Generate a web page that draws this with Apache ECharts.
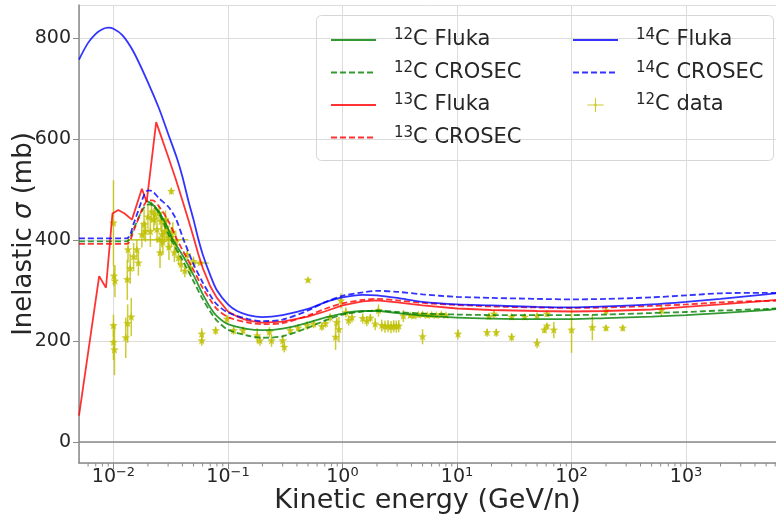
<!DOCTYPE html>
<html>
<head>
<meta charset="utf-8">
<script src="https://cdn.jsdelivr.net/npm/echarts@6/dist/echarts.min.js"></script>
<style>
  html, body { margin: 0; padding: 0; background: #ffffff; }
  #chart { width: 776px; height: 517px; }
</style>
</head>
<body>
<div id="chart"></div>
<script>
// ---- model curves: kinetic energy (GeV/n) and inelastic cross section (mb) ----
const c12FlukaE = [0.019,0.022,0.025,0.03,0.0325,0.04,0.05,0.06,0.07,0.08,0.1,0.15,0.2,0.3,0.5,0.7,1,1.5,2,3,5,10,20,50,100,200,500,1000,2000,5000,6100];
const c12FlukaS = [478,470,455,422,403,370,330,293,266,249,233,223,221,224,236,246,254,259,259,255,250,246,244,243,243,245,248,251,255,261,263];

const c12CrosecE = [0.005,0.013,0.015,0.018,0.02,0.022,0.025,0.0314,0.04,0.05,0.06,0.07,0.08,0.1,0.15,0.2,0.3,0.5,0.7,1,1.5,2,3,5,10,20,50,100,200,500,1000,2000,5000,6100];
const c12CrosecS = [397,397,422,460,470,468,452,403,360,318,283,258,240,222,210,206,209,226,240,252,258,260,257,254,252,251,251,251,252,255,257,260,263,264];

const c13FlukaE = [0.005,0.0075,0.0086,0.0098,0.011,0.0125,0.0145,0.0177,0.0195,0.0236,0.03,0.035,0.04,0.045,0.05,0.055,0.06,0.07,0.08,0.1,0.12,0.15,0.2,0.3,0.5,0.7,1,1.5,2,3,5,10,20,50,100,200,500,1000,2000,5000,6100];
const c13FlukaS = [52,328,305,452,459,452,440,501,475,633,565,520,478,440,405,372,345,308,285,258,248,240,236,238,248,258,270,278,280,276,270,264,261,259,258,259,262,267,272,279,281];

const c13CrosecE = [0.005,0.013,0.015,0.018,0.02,0.022,0.025,0.03,0.036,0.04,0.05,0.06,0.07,0.08,0.1,0.15,0.2,0.3,0.5,0.7,1,1.5,2,3,5,10,20,50,100,200,500,1000,2000,5000,6100];
const c13CrosecS = [392,392,418,463,478,478,466,438,400,380,340,305,281,263,247,236,233,235,250,263,274,281,283,280,275,271,268,266,265,266,269,272,276,279,279];

const c14FlukaE = [0.005,0.006,0.007,0.008,0.009,0.01,0.012,0.015,0.02,0.025,0.03,0.036,0.04,0.045,0.05,0.055,0.06,0.07,0.08,0.1,0.12,0.15,0.2,0.3,0.5,0.7,1,1.5,2,3,5,10,20,50,100,200,500,1000,2000,5000,6100];
const c14FlukaS = [757,790,808,817,820,818,805,772,712,660,610,560,525,478,440,402,372,330,300,272,259,251,247,251,263,276,286,291,290,285,277,272,270,267,266,268,272,277,283,292,294];

const c14CrosecE = [0.005,0.013,0.015,0.018,0.02,0.022,0.025,0.03,0.035,0.041,0.05,0.06,0.07,0.08,0.1,0.15,0.2,0.3,0.5,0.7,1,1.5,2,3,5,10,20,50,100,200,500,1000,2000,5000,6100];
const c14CrosecS = [403,403,432,482,498,496,482,466,442,400,352,316,290,272,256,243,239,242,260,276,289,296,299,297,292,287,285,283,282,283,286,290,294,295,295];

// ---- 12C measurements: energy, cross section, symmetric error ----
const dataE = [0.0100,0.0101,0.0103,0.0100,0.0100,0.0102,0.0128,0.0133,0.0143,0.0132,0.0140,0.0134,0.0150,0.0160,0.0165,0.0177,0.0185,0.0190,0.0200,0.0210,0.0215,0.0225,0.0230,0.0240,0.0250,0.0255,0.0260,0.0265,0.0270,0.0280,0.0285,0.0290,0.0300,0.0305,0.0320,0.0320,0.0330,0.0340,0.0350,0.0370,0.0390,0.0420,0.0440,0.0470,0.0500,0.059,0.059,0.078,0.098,0.112,0.135,0.18,0.19,0.23,0.24,0.30,0.31,0.35,0.41,0.49,0.50,0.56,0.66,0.71,0.78,0.87,0.89,0.93,0.97,1.07,1.13,1.21,1.5,1.63,1.75,1.93,2.06,2.2,2.35,2.5,2.65,2.8,2.95,3.1,3.4,3.9,4.2,4.6,5.0,5.5,6.0,6.6,7.3,8.0,5.0,10.2,18.3,19,21,22,30,30,39,50,50,58,61,61,70,100,152,200,200,280,610];
const dataS = [433,328,318,230,197,182,206,234,247,321,343,380,366,380,354,410,430,416,445,416,455,440,449,420,452,374,436,410,395,416,440,425,403,385,496,405,415,374,395,364,351,338,370,344,357,213,200,220,243,220,220,210,200,217,200,200,187,220,225,230,320,233,228,234,246,207,236,222,279,256,240,246,244,239,245,233,260,230,228,229,227,229,228,229,249,250,249,251,252,250,251,250,252,250,208,213,216,248,253,216,207,247,247,195,249,221,229,253,221,221,226,225,259,225,260];
const dataErr = [85,20,32,22,35,50,40,38,38,40,30,25,28,20,25,25,30,20,25,30,20,22,20,25,15,30,20,25,25,20,18,20,22,25,6,20,20,18,20,15,15,12,12,12,10,12,10,8,8,8,8,15,10,10,12,12,10,8,8,8,4,8,8,8,8,25,10,25,15,10,10,10,10,10,8,12,12,12,12,12,12,12,12,12,12,5,5,5,5,5,5,5,5,5,15,10,8,6,8,8,8,6,6,10,6,6,6,6,16,45,25,6,8,6,12];
// measurements that also carry an energy-bin width
const spanE  = [0.025, 0.057];
const spanS  = [400, 354];
const spanLo = [0.0135, 0.050];
const spanHi = [0.045, 0.068];

// ---- axis decoration ----
const X_MIN = 0.005, X_MAX = 6100, Y_MIN = -42, Y_MAX = 865;
const minorMantissa = [2, 3, 4, 5, 6, 7, 8, 9];
const minorDecades = [0.001, 0.01, 0.1, 1, 10, 100, 1000];

const FONT = 'DejaVu Sans';
const TXT = '#262626';
const SPINE = '#8a8a8a';
const GREEN = 'rgba(0,128,0,0.8)';
const RED = 'rgba(255,0,0,0.8)';
const BLUE = 'rgba(0,0,255,0.8)';
const YELLOW = 'rgba(191,191,0,0.8)';
const DASH = [6, 3];

const zip = (e, s) => e.map((v, i) => [v, s[i]]);

const minorTicks = [];
minorDecades.forEach(d => minorMantissa.forEach(m => {
  const v = m * d;
  if (v > X_MIN && v < X_MAX) minorTicks.push([v, Y_MIN]);
}));

const pointItems = dataE.map((e, i) => [e, dataS[i], dataErr[i], e, e]);
spanE.forEach((e, i) => pointItems.push([e, spanS[i], 0, spanLo[i], spanHi[i]]));

function starPoints(cx, cy, ro, ri) {
  const pts = [];
  for (let k = 0; k < 10; k++) {
    const r = k % 2 ? ri : ro;
    const a = -Math.PI / 2 + k * Math.PI / 5;
    pts.push([cx + r * Math.cos(a), cy + r * Math.sin(a)]);
  }
  return pts;
}

function renderPoint(params, api) {
  const x = api.value(0), y = api.value(1), err = api.value(2);
  const lo = api.value(3), hi = api.value(4);
  const c = api.coord([x, y]);
  const kids = [];
  const st = { stroke: YELLOW, lineWidth: 1.5 };
  if (err > 0) {
    const t = api.coord([x, y + err]), b = api.coord([x, y - err]);
    kids.push({ type: 'line', shape: { x1: c[0], y1: t[1], x2: c[0], y2: b[1] }, style: st });
  }
  if (hi > lo) {
    const l = api.coord([lo, y]), h = api.coord([hi, y]);
    kids.push({ type: 'line', shape: { x1: l[0], y1: c[1], x2: h[0], y2: c[1] }, style: st });
  }
  kids.push({ type: 'polygon', shape: { points: starPoints(c[0], c[1], 4.5, 2) }, style: { fill: YELLOW } });
  return { type: 'group', children: kids };
}

function renderMinorTick(params, api) {
  const p = api.coord([api.value(0), api.value(1)]);
  return { type: 'line', shape: { x1: p[0], y1: p[1], x2: p[0], y2: p[1] + 3.5 }, style: { stroke: SPINE, lineWidth: 1 } };
}

function legendLabel(name) {
  const m = name.match(/^(\d+)(.*)$/);
  return '{s|' + m[1] + '}{t|' + m[2] + '}';
}

const legendText = {
  fontFamily: FONT, color: TXT, fontSize: 21, padding: [0, 0, 0, 13],
  rich: {
    s: { fontFamily: FONT, fontSize: 15, color: TXT, verticalAlign: 'top', lineHeight: 24 },
    t: { fontFamily: FONT, fontSize: 21, color: TXT, lineHeight: 24 }
  }
};

const plusIcon = 'path://M0,0M45,18M12,8.3H33V9.7H12Z M21.8,0H23.2V18H21.8Z M21,7.5H24V10.5H21Z';

function lineSeries(name, e, s, color, dashed, smooth) {
  return {
    name, type: 'line', data: zip(e, s), symbol: 'none', smooth: smooth,
    lineStyle: { color, width: 1.8, type: dashed ? DASH : 'solid' },
    itemStyle: { color }, z: 3, animation: false
  };
}

const legendBase = {
  orient: 'vertical', top: 23, itemWidth: 45, itemHeight: 14, itemGap: 10,
  itemStyle: { opacity: 0 }, formatter: legendLabel, textStyle: legendText, selectedMode: false
};

const chart = echarts.init(document.getElementById('chart'), null, { renderer: 'canvas' });

chart.setOption({
  backgroundColor: '#ffffff',
  animation: false,
  grid: { left: 79, right: 0, top: 5, bottom: 54, containLabel: false, outerBoundsMode: 'none' },
  xAxis: [{
    type: 'log', logBase: 10, min: X_MIN, max: X_MAX,
    name: 'Kinetic energy (GeV/n)', nameLocation: 'middle', nameGap: 24, nameMoveOverlap: false,
    nameTextStyle: { fontFamily: FONT, fontSize: 27, color: TXT },
    axisLine: { show: true, onZero: false, lineStyle: { color: SPINE, width: 1.5 } },
    axisTick: { show: true, length: 6, lineStyle: { color: SPINE, width: 1 } },
    axisLabel: {
      margin: 3, showMinLabel: false, showMaxLabel: false,
      formatter: v => {
        const l = Math.log10(v), e = Math.round(l);
        if (Math.abs(l - e) > 1e-6) return '';
        return '{b|10}{s|' + (e < 0 ? '\u2212' + (-e) : e) + '}';
      },
      rich: {
        b: { fontFamily: FONT, fontSize: 19, color: TXT, lineHeight: 22 },
        s: { fontFamily: FONT, fontSize: 13, color: TXT, verticalAlign: 'top', lineHeight: 16 }
      }
    },
    splitLine: { show: true, lineStyle: { color: '#dcdcdc', width: 1 } }
  }, {
    type: 'log', logBase: 10, min: X_MIN, max: X_MAX, position: 'top',
    axisLine: { show: true, lineStyle: { color: SPINE, width: 1.5 } },
    axisTick: { show: false }, axisLabel: { show: false }, splitLine: { show: false }
  }],
  yAxis: {
    type: 'value', min: Y_MIN, max: Y_MAX, splitNumber: 5,
    name: 'Inelastic {i|\u03c3} (mb)', nameLocation: 'middle', nameGap: 42, nameRotate: 90, nameMoveOverlap: false,
    nameTextStyle: {
      fontFamily: FONT, fontSize: 26, color: TXT,
      rich: { i: { fontFamily: FONT, fontSize: 26, fontStyle: 'italic', color: TXT } }
    },
    axisLine: { show: true, lineStyle: { color: SPINE, width: 1.5 } },
    axisTick: { show: true, length: 6, lineStyle: { color: SPINE, width: 1 } },
    axisLabel: { fontFamily: FONT, fontSize: 19, color: TXT, margin: 8, showMinLabel: false, showMaxLabel: false },
    splitLine: { show: true, lineStyle: { color: '#dcdcdc', width: 1 } }
  },
  graphic: [{
    type: 'rect', left: 316, top: 15, z: 0, zlevel: 0,
    shape: { width: 457, height: 145, r: 5 },
    style: { fill: 'rgba(255,255,255,0.8)', stroke: '#d6d6d6', lineWidth: 1 }
  }],
  legend: [Object.assign({}, legendBase, {
    left: 325,
    data: ['12C Fluka', '12C CROSEC', '13C Fluka', '13C CROSEC']
  }), Object.assign({}, legendBase, {
    left: 567,
    data: ['14C Fluka', '14C CROSEC', { name: '12C data', icon: plusIcon, itemStyle: { color: YELLOW, opacity: 1 } }]
  })],
  series: [
    lineSeries('12C Fluka', c12FlukaE, c12FlukaS, GREEN, false, 0.3),
    lineSeries('12C CROSEC', c12CrosecE, c12CrosecS, GREEN, true, 0.3),
    lineSeries('13C Fluka', c13FlukaE, c13FlukaS, RED, false, false),
    lineSeries('13C CROSEC', c13CrosecE, c13CrosecS, RED, true, 0.3),
    lineSeries('14C Fluka', c14FlukaE, c14FlukaS, BLUE, false, 0.3),
    lineSeries('14C CROSEC', c14CrosecE, c14CrosecS, BLUE, true, 0.3),
    {
      name: '12C data', type: 'custom', renderItem: renderPoint, data: pointItems,
      encode: { x: 0, y: 1 }, itemStyle: { color: YELLOW }, z: 2, clip: true, animation: false
    },
    {
      name: 'minor ticks', type: 'custom', renderItem: renderMinorTick, data: minorTicks,
      encode: { x: 0, y: 1 }, silent: true, clip: false, z: 5, animation: false
    }
  ]
});
</script>
</body>
</html>
